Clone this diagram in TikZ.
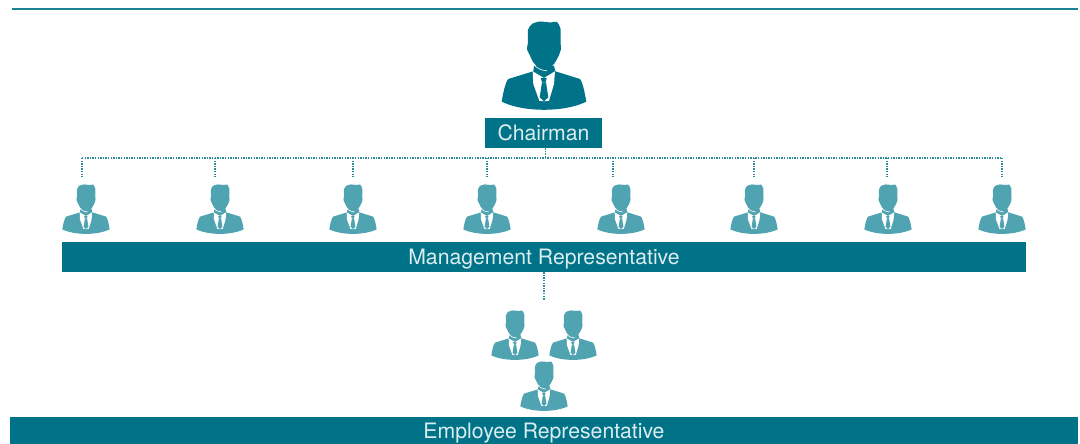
\documentclass[tikz,border=0pt]{standalone}
\usepackage{fontspec}
\setmainfont{TeX Gyre Heros}
\usetikzlibrary{positioning}
\definecolor{barteal}{HTML}{007388}
\definecolor{iconteal}{HTML}{50A3B0}
\definecolor{bartext}{HTML}{DCEDF0}
\definecolor{dotteal}{HTML}{2A8C9C}
\definecolor{ruleteal}{HTML}{1A8292}
\tikzstyle{barbox}=[rectangle, fill=barteal, text=bartext, inner sep=0pt, font=\fontsize{21.2}{21.2}\selectfont, text depth=0pt]
\tikzstyle{dotline}=[-, dotteal, line width=1.4pt, dash pattern=on 1.4pt off 1.2pt]
\tikzstyle{topline}=[-, ruleteal, line width=1.5pt]
\tikzset{pics/person/.style={code={
    \fill[#1] (-42.3,-8.3) .. controls (-41,-16) and (-39,-27) .. (-35.7,-31) -- (-10.7,-38.7) -- (-10,-44.3) -- (10,-44.3) -- (11.3,-38.7) -- (36,-31) .. controls (39,-27) and (41,-16) .. (42.3,-8.3)
        .. controls (20,2.5) and (-20,2.5) .. cycle;
    \fill[white] (-11.3,-38.7) -- (-10.7,-26) -- (-4.7,-9.3) -- (0,-8.7) -- (5,-9.3) -- (10,-26) -- (11,-38.7) -- (0,-32) -- cycle;
    \fill[#1] (-3.3,-32) -- (2.7,-32) -- (1.7,-27.7) -- (-2,-27.7) -- cycle;
    \fill[#1] (-2,-27.7) -- (2,-27.7) -- (4.3,-12.7) -- (0,-8.7) -- (-4.3,-12.7) -- cycle;
    \fill[#1] plot[smooth cycle, tension=0.4] coordinates {(-16,-80) (-12,-86) (-4,-88.5) (6.7,-87.5) (13,-88) (16.5,-81) (16.5,-67.7) (17,-61) (14.7,-54.3) (10,-46) (4.3,-41.7) (0,-40.3) (-4.7,-41.7) (-10.7,-47.7) (-14,-54.3) (-17,-61) (-16,-67.7)};
    \draw[white, line width=0.6pt] (-10.7,-45.5) .. controls (-6,-41) and (-2,-39.5) .. (3,-39.2);
}}}
\begin{document}
\begin{tikzpicture}[x=1pt, y=-1pt]
    \useasboundingbox (0,0) rectangle (1080,444);

    \coordinate (ruleleft) at (12,9);
    \coordinate (ruleright) at (1078,9);
    \draw[topline] (ruleleft) -- (ruleright);

% Chairman
    \pic (chief) at (544,110) {person=barteal};
    \node (chairman) [barbox, minimum width=117pt, minimum height=30pt] at (543.5,133) {Chairman};

% Management row
    \pic (mgr1) at (86,234) [scale=0.56] {person=iconteal};
    \pic (mgr2) at (220,234) [scale=0.56] {person=iconteal};
    \pic (mgr3) at (353,234) [scale=0.56] {person=iconteal};
    \pic (mgr4) at (487,234) [scale=0.56] {person=iconteal};
    \pic (mgr5) at (621,234) [scale=0.56] {person=iconteal};
    \pic (mgr6) at (754,234) [scale=0.56] {person=iconteal};
    \pic (mgr7) at (888,234) [scale=0.56] {person=iconteal};
    \pic (mgr8) at (1002,234) [scale=0.56] {person=iconteal};
    \node (mgmt) [barbox, minimum width=964pt, minimum height=30pt] at (544,257) {Management Representative};

% Employee group
    \pic (emp1) at (515,360) [scale=0.56] {person=iconteal};
    \pic (emp2) at (573,360) [scale=0.56] {person=iconteal};
    \pic (emp3) at (544,411) [scale=0.56] {person=iconteal};
    \node (employee) [barbox, minimum width=1068pt, minimum height=27pt] at (544,430.5) {Employee Representative};

% Connector ends
    \coordinate (hub) at (545.5,158);
    \coordinate (top1) at (82,158);
    \coordinate (top2) at (215,158);
    \coordinate (top3) at (353,158);
    \coordinate (top4) at (487,158);
    \coordinate (top5) at (613,158);
    \coordinate (top6) at (754,158);
    \coordinate (top7) at (887,158);
    \coordinate (top8) at (1002,158);
    \coordinate (end1) at (82,177);
    \coordinate (end2) at (215,177);
    \coordinate (end3) at (353,177);
    \coordinate (end4) at (487,177);
    \coordinate (end5) at (613,177);
    \coordinate (end6) at (754,177);
    \coordinate (end7) at (887,177);
    \coordinate (end8) at (1002,177);
    \coordinate (empend) at (mgmt.south |- 0,300);

    \draw[dotline] (hub |- chairman.south) -- (hub);
    \draw[dotline] (top1) -- (top8);
    \draw[dotline] (top1) -- (end1);
    \draw[dotline] (top2) -- (end2);
    \draw[dotline] (top3) -- (end3);
    \draw[dotline] (top4) -- (end4);
    \draw[dotline] (top5) -- (end5);
    \draw[dotline] (top6) -- (end6);
    \draw[dotline] (top7) -- (end7);
    \draw[dotline] (top8) -- (end8);
    \draw[dotline] (mgmt.south) -- (empend);
\end{tikzpicture}
\end{document}
